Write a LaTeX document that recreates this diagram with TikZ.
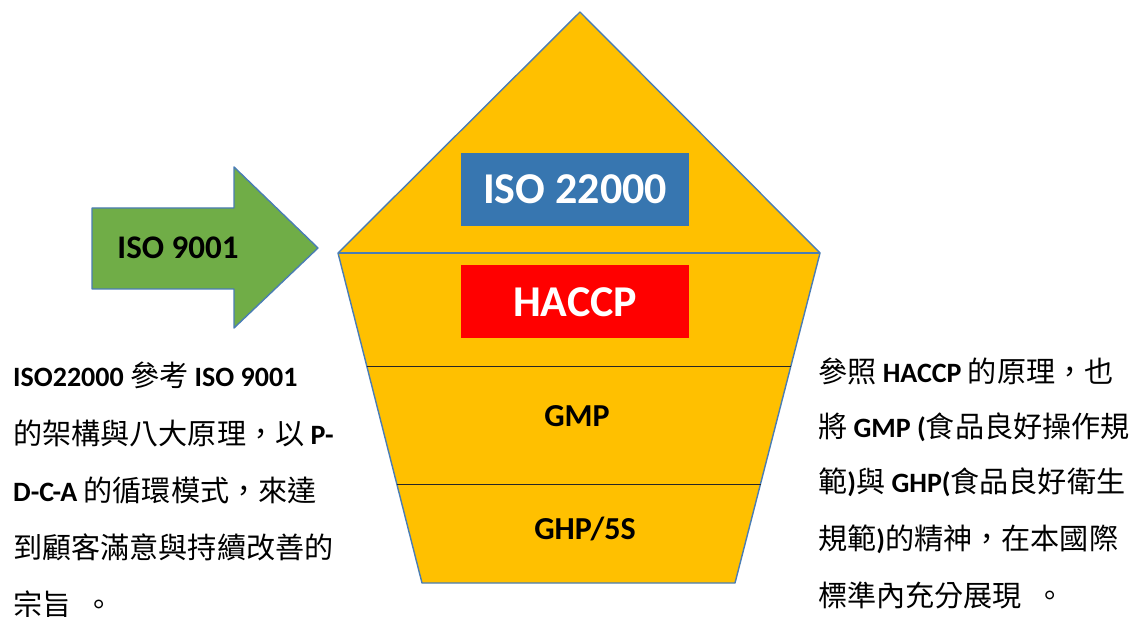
\documentclass[tikz,border=0pt]{standalone}
\usepackage{fontspec}
\setmainfont{Carlito}
\newfontfamily\cjk{Noto Sans CJK TC}[Scale=1.04]
\usetikzlibrary{calc}
\definecolor{gold}{HTML}{FFC000}
\definecolor{edgeblue}{HTML}{4A7DB4}
\definecolor{isoblue}{HTML}{3776B0}
\definecolor{leafgreen}{HTML}{70AD47}
\newcommand\zh[1]{{\cjk #1}}
\newcommand\lt[1]{{\bfseries #1}}
\tikzset{
  outline/.style={draw=edgeblue, line width=1.4pt, line join=round},
  divider/.style={draw=black!85, line width=0.9pt},
  badge/.style={minimum width=228pt, minimum height=73pt, inner sep=0pt,
    text=white, font=\fontsize{44}{50}\selectfont\bfseries},
  layertext/.style={font=\fontsize{32}{38}\selectfont\bfseries, text=black},
  note/.style={anchor=base west, inner sep=0pt,
    font=\fontsize{28}{34}\selectfont, text=black}
}
\begin{document}
\begin{tikzpicture}[x=1pt, y=-1pt]
\useasboundingbox (0,0) rectangle (1143,617);

% pentagon outline points
\coordinate (apex) at (580,12);
\coordinate (tr) at (820,253);
\coordinate (tl) at (338,253);
\coordinate (br) at (735,583);
\coordinate (bl) at (422,583);

\fill[gold] (apex) -- (tr) -- (br) -- (bl) -- (tl) -- cycle;
\draw[outline] (apex) -- (tr) -- (br) -- (bl) -- (tl) -- cycle;
\draw[outline] (tl) -- (tr);

% layer dividers
\draw[divider] ($(tl)!0.345!(bl)$) -- ($(tr)!0.345!(br)$);
\draw[divider] ($(tl)!0.70!(bl)$) -- ($(tr)!0.70!(br)$);

% labelled badges and layers
\node[badge, fill=isoblue] (iso) at (575,189.5) {ISO 22000};
\node[badge, fill=red] (haccp) at (575,302) {HACCP};
\node[layertext] (gmp) at (577,416) {GMP};
\node[layertext] (ghp) at (585,529) {GHP/5S};

% ISO 9001 arrow
\fill[leafgreen] (92,208) -- (234,208) -- (234,167) -- (318,248) -- (234,328) -- (234,289) -- (92,289) -- cycle;
\draw[outline] (92,208) -- (234,208) -- (234,167) -- (318,248) -- (234,328) -- (234,289) -- (92,289) -- cycle;
\node[layertext, font=\fontsize{33}{38}\selectfont\bfseries] (iso9001) at (178,248) {ISO 9001};

% left notes
\node[note] (l1) at (13,387) {\lt{ISO22000} \zh{參考} \lt{ISO 9001}};
\node[note] (l2) at (13,444) {\zh{的架構與八大原理，以} \lt{P-}};
\node[note] (l3) at (13,501) {\lt{D-C-A} \zh{的循環模式，來達}};
\node[note] (l4) at (13,558) {\zh{到顧客滿意與持續改善的}};
\node[note] (l5) at (13,615) {\zh{宗旨\ \ 。}};

% right notes
\node[note] (r1) at (818,382) {\zh{參照} \lt{HACCP} \zh{的原理，也}};
\node[note] (r2) at (818,437) {\zh{將} \lt{GMP (}\zh{食品良好操作規}};
\node[note] (r3) at (818,492) {\zh{範}\lt{)}\zh{與} \lt{GHP(}\zh{食品良好衛生}};
\node[note] (r4) at (818,549) {\zh{規範}\lt{)}\zh{的精神，在本國際}};
\node[note] (r5) at (818,606) {\zh{標準內充分展現\ \ 。}};
\end{tikzpicture}
\end{document}
